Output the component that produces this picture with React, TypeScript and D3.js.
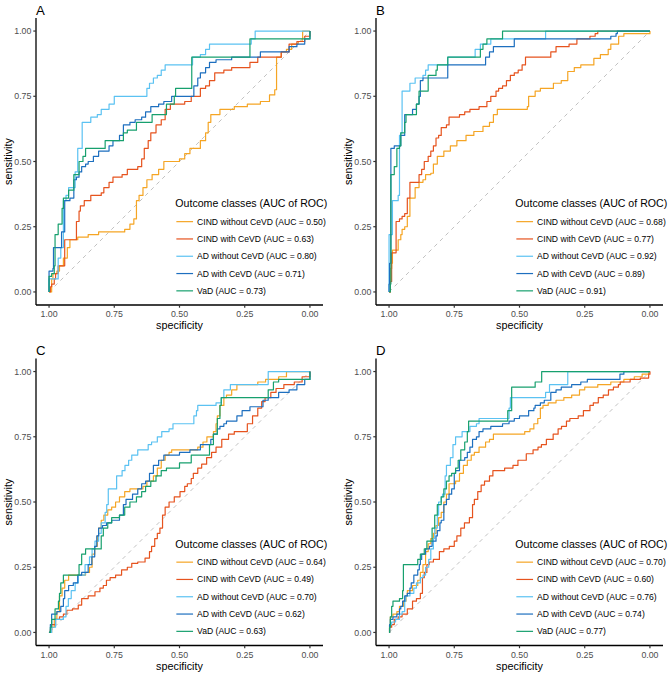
import React from "react";
import * as d3 from "d3";

type Pt = [number, number];

const seriesNames = ["CIND without CeVD", "CIND with CeVD", "AD without CeVD", "AD with CeVD", "VaD"];
const seriesColors = ["#F5A524", "#E6531E", "#5BC2F2", "#1D6FBF", "#17A06E"];
const axisTicks = [1, 0.75, 0.5, 0.25, 0];
const legendTitle = "Outcome classes (AUC of ROC)";

const aucA = ["0.50", "0.63", "0.80", "0.71", "0.73"];
const aucB = ["0.68", "0.77", "0.92", "0.89", "0.91"];
const aucC = ["0.64", "0.49", "0.70", "0.62", "0.63"];
const aucD = ["0.70", "0.60", "0.76", "0.74", "0.77"];

// Panel A  [specificity, sensitivity]
const A_cindNo: Pt[] = [[1,0],[0.99,0.05],[0.985,0.07],[0.97,0.08],[0.96,0.10],[0.945,0.13],[0.93,0.17],[0.92,0.20],[0.89,0.21],[0.85,0.22],[0.81,0.23],[0.71,0.24],[0.69,0.26],[0.675,0.28],[0.665,0.35],[0.655,0.37],[0.64,0.40],[0.625,0.43],[0.605,0.45],[0.58,0.47],[0.56,0.50],[0.50,0.51],[0.48,0.53],[0.46,0.55],[0.42,0.58],[0.40,0.61],[0.39,0.65],[0.38,0.68],[0.345,0.70],[0.29,0.71],[0.24,0.72],[0.19,0.73],[0.155,0.755],[0.135,0.775],[0.128,0.90],[0.11,0.92],[0.09,0.93],[0.07,0.95],[0.045,0.96],[0.03,0.97],[0.028,1.0],[0,1]];
const A_cindWith: Pt[] = [[1,0],[0.995,0.02],[0.99,0.03],[0.98,0.05],[0.975,0.07],[0.965,0.10],[0.94,0.20],[0.895,0.27],[0.885,0.31],[0.88,0.33],[0.865,0.35],[0.84,0.37],[0.80,0.38],[0.79,0.40],[0.77,0.42],[0.755,0.44],[0.72,0.45],[0.70,0.47],[0.66,0.48],[0.645,0.51],[0.635,0.55],[0.62,0.58],[0.61,0.61],[0.59,0.64],[0.57,0.66],[0.555,0.70],[0.535,0.72],[0.48,0.73],[0.455,0.75],[0.42,0.78],[0.40,0.79],[0.385,0.81],[0.365,0.84],[0.33,0.85],[0.30,0.86],[0.23,0.88],[0.20,0.90],[0.11,0.92],[0.08,0.95],[0.05,0.96],[0.02,0.98],[0,0.99],[0,1]];
const A_adNo: Pt[] = [[1,0],[1,0.05],[0.97,0.05],[0.965,0.13],[0.955,0.17],[0.945,0.35],[0.935,0.37],[0.925,0.40],[0.905,0.40],[0.90,0.46],[0.89,0.55],[0.875,0.55],[0.873,0.65],[0.85,0.65],[0.84,0.67],[0.815,0.68],[0.80,0.70],[0.77,0.72],[0.75,0.75],[0.63,0.75],[0.625,0.78],[0.615,0.80],[0.60,0.82],[0.585,0.83],[0.57,0.85],[0.555,0.87],[0.46,0.87],[0.45,0.90],[0.42,0.91],[0.40,0.93],[0.385,0.95],[0.235,0.95],[0.225,0.97],[0.21,1.0],[0,1]];
const A_adWith: Pt[] = [[1,0],[1,0.08],[0.985,0.09],[0.983,0.17],[0.958,0.17],[0.952,0.23],[0.945,0.23],[0.94,0.35],[0.92,0.36],[0.905,0.43],[0.895,0.44],[0.885,0.46],[0.875,0.48],[0.86,0.49],[0.85,0.50],[0.83,0.52],[0.81,0.54],[0.77,0.56],[0.755,0.58],[0.73,0.60],[0.715,0.64],[0.69,0.65],[0.67,0.66],[0.645,0.67],[0.63,0.69],[0.61,0.71],[0.58,0.72],[0.56,0.73],[0.53,0.75],[0.45,0.75],[0.445,0.79],[0.43,0.82],[0.42,0.84],[0.40,0.86],[0.385,0.88],[0.36,0.89],[0.30,0.90],[0.22,0.90],[0.19,0.92],[0.10,0.92],[0.08,0.94],[0.05,0.95],[0.02,0.97],[0,0.97],[0,1]];
const A_vad: Pt[] = [[1,0],[1,0.06],[0.99,0.07],[0.98,0.10],[0.977,0.22],[0.965,0.26],[0.955,0.26],[0.95,0.32],[0.945,0.36],[0.93,0.36],[0.925,0.39],[0.915,0.39],[0.905,0.45],[0.895,0.45],[0.885,0.50],[0.87,0.52],[0.86,0.55],[0.79,0.55],[0.785,0.58],[0.72,0.58],[0.715,0.61],[0.70,0.62],[0.665,0.65],[0.61,0.65],[0.605,0.68],[0.555,0.68],[0.55,0.72],[0.52,0.75],[0.515,0.78],[0.455,0.78],[0.453,0.90],[0.235,0.90],[0.23,0.97],[0,0.97],[0,1]];

// Panel B
const B_cindNo: Pt[] = [[1,0],[0.995,0.09],[0.99,0.11],[0.987,0.16],[0.97,0.16],[0.965,0.20],[0.955,0.22],[0.95,0.24],[0.94,0.25],[0.93,0.29],[0.92,0.36],[0.905,0.36],[0.90,0.40],[0.885,0.42],[0.87,0.43],[0.86,0.45],[0.84,0.455],[0.83,0.49],[0.815,0.52],[0.79,0.54],[0.765,0.56],[0.74,0.58],[0.705,0.60],[0.675,0.615],[0.64,0.635],[0.615,0.65],[0.60,0.68],[0.585,0.70],[0.47,0.71],[0.465,0.75],[0.44,0.77],[0.42,0.78],[0.37,0.80],[0.34,0.81],[0.315,0.845],[0.29,0.86],[0.265,0.87],[0.215,0.895],[0.19,0.91],[0.16,0.93],[0.15,0.95],[0.12,0.98],[0.10,0.99],[0,0.99],[0,1]];
const B_cindWith: Pt[] = [[1,0],[0.995,0.04],[0.99,0.15],[0.975,0.15],[0.973,0.27],[0.96,0.28],[0.95,0.29],[0.94,0.30],[0.93,0.36],[0.92,0.42],[0.89,0.42],[0.885,0.45],[0.875,0.47],[0.865,0.50],[0.85,0.52],[0.84,0.54],[0.83,0.56],[0.82,0.59],[0.81,0.60],[0.80,0.63],[0.78,0.64],[0.77,0.67],[0.73,0.68],[0.71,0.69],[0.69,0.70],[0.655,0.71],[0.625,0.73],[0.61,0.75],[0.59,0.77],[0.58,0.78],[0.565,0.79],[0.55,0.81],[0.535,0.83],[0.52,0.84],[0.505,0.85],[0.49,0.87],[0.477,0.90],[0.40,0.90],[0.38,0.92],[0.36,0.94],[0.31,0.95],[0.28,0.97],[0.23,0.98],[0.21,0.99],[0.20,1.0],[0,1]];
const B_adNo: Pt[] = [[1,0],[1,0.22],[0.987,0.35],[0.97,0.35],[0.965,0.37],[0.96,0.60],[0.955,0.61],[0.95,0.77],[0.93,0.77],[0.92,0.80],[0.90,0.82],[0.87,0.83],[0.86,0.85],[0.85,0.87],[0.78,0.87],[0.775,0.90],[0.675,0.90],[0.67,0.93],[0.65,0.95],[0.61,0.97],[0.405,0.97],[0.40,1.0],[0,1]];
const B_adWith: Pt[] = [[1,0],[1,0.03],[0.998,0.11],[0.993,0.55],[0.98,0.56],[0.96,0.56],[0.955,0.60],[0.945,0.60],[0.94,0.68],[0.915,0.68],[0.91,0.70],[0.895,0.72],[0.885,0.75],[0.88,0.81],[0.87,0.82],[0.78,0.82],[0.775,0.87],[0.64,0.87],[0.63,0.90],[0.615,0.92],[0.60,0.94],[0.53,0.94],[0.52,0.97],[0.20,0.97],[0.15,0.98],[0.13,0.99],[0.125,1.0],[0,1]];
const B_vad: Pt[] = [[1,0],[0.995,0.03],[0.993,0.45],[0.985,0.45],[0.98,0.48],[0.97,0.55],[0.96,0.56],[0.955,0.61],[0.94,0.65],[0.935,0.68],[0.90,0.68],[0.895,0.72],[0.885,0.77],[0.855,0.77],[0.85,0.83],[0.82,0.85],[0.815,0.87],[0.79,0.87],[0.775,0.90],[0.66,0.90],[0.65,0.93],[0.64,0.95],[0.625,0.97],[0.575,0.97],[0.565,1.0],[0,1]];

// Panel C
const C_cindNo: Pt[] = [[1,0],[0.99,0.02],[0.98,0.05],[0.97,0.08],[0.96,0.14],[0.95,0.17],[0.94,0.20],[0.925,0.22],[0.87,0.22],[0.86,0.23],[0.845,0.25],[0.835,0.30],[0.825,0.33],[0.815,0.37],[0.81,0.40],[0.80,0.43],[0.79,0.45],[0.775,0.47],[0.76,0.48],[0.745,0.50],[0.73,0.52],[0.71,0.54],[0.69,0.55],[0.64,0.56],[0.625,0.58],[0.60,0.60],[0.585,0.63],[0.57,0.66],[0.555,0.68],[0.54,0.69],[0.53,0.70],[0.43,0.71],[0.41,0.73],[0.395,0.75],[0.37,0.77],[0.36,0.80],[0.355,0.83],[0.345,0.87],[0.33,0.90],[0.32,0.91],[0.30,0.93],[0.28,0.95],[0.20,0.96],[0.17,0.97],[0.12,0.98],[0.09,1.0],[0,1]];
const C_cindWith: Pt[] = [[1,0],[0.995,0.01],[0.99,0.03],[0.975,0.05],[0.96,0.06],[0.945,0.07],[0.932,0.085],[0.91,0.09],[0.888,0.105],[0.875,0.13],[0.85,0.14],[0.824,0.156],[0.805,0.17],[0.792,0.18],[0.78,0.20],[0.766,0.21],[0.745,0.22],[0.722,0.24],[0.70,0.25],[0.683,0.265],[0.66,0.27],[0.632,0.285],[0.615,0.31],[0.607,0.33],[0.595,0.36],[0.585,0.38],[0.575,0.40],[0.565,0.45],[0.555,0.48],[0.54,0.50],[0.52,0.52],[0.498,0.54],[0.48,0.56],[0.47,0.57],[0.455,0.59],[0.447,0.61],[0.43,0.63],[0.415,0.645],[0.396,0.67],[0.377,0.69],[0.36,0.71],[0.338,0.74],[0.312,0.76],[0.29,0.77],[0.24,0.80],[0.22,0.83],[0.20,0.86],[0.185,0.885],[0.172,0.90],[0.15,0.92],[0.13,0.935],[0.10,0.95],[0.06,0.96],[0.03,0.98],[0,0.99],[0,1]];
const C_adNo: Pt[] = [[1,0],[0.99,0.02],[0.975,0.05],[0.945,0.06],[0.935,0.10],[0.926,0.13],[0.915,0.16],[0.90,0.19],[0.888,0.22],[0.862,0.26],[0.845,0.29],[0.835,0.32],[0.824,0.35],[0.81,0.38],[0.80,0.42],[0.785,0.46],[0.779,0.49],[0.773,0.55],[0.745,0.55],[0.741,0.60],[0.72,0.62],[0.709,0.64],[0.695,0.66],[0.683,0.68],[0.66,0.70],[0.62,0.72],[0.607,0.73],[0.585,0.75],[0.568,0.77],[0.54,0.78],[0.525,0.80],[0.465,0.80],[0.445,0.83],[0.435,0.85],[0.43,0.87],[0.37,0.87],[0.36,0.88],[0.34,0.90],[0.33,0.93],[0.305,0.95],[0.165,0.95],[0.16,1.0],[0,1]];
const C_adWith: Pt[] = [[1,0],[0.995,0.03],[0.99,0.07],[0.97,0.08],[0.955,0.10],[0.945,0.13],[0.94,0.16],[0.925,0.18],[0.907,0.19],[0.89,0.22],[0.875,0.23],[0.85,0.26],[0.836,0.29],[0.825,0.33],[0.817,0.37],[0.81,0.40],[0.795,0.41],[0.78,0.42],[0.76,0.43],[0.73,0.45],[0.715,0.49],[0.705,0.51],[0.68,0.53],[0.66,0.55],[0.645,0.57],[0.63,0.58],[0.615,0.61],[0.60,0.64],[0.58,0.66],[0.56,0.68],[0.50,0.69],[0.46,0.70],[0.42,0.72],[0.38,0.74],[0.37,0.76],[0.355,0.78],[0.345,0.79],[0.33,0.80],[0.32,0.81],[0.28,0.83],[0.26,0.85],[0.23,0.865],[0.18,0.89],[0.16,0.90],[0.12,0.92],[0.08,0.93],[0.05,0.95],[0.02,0.97],[0,0.97],[0,1]];
const C_vad: Pt[] = [[1,0],[0.995,0.02],[0.99,0.05],[0.977,0.09],[0.964,0.12],[0.96,0.15],[0.955,0.19],[0.945,0.22],[0.89,0.22],[0.885,0.26],[0.875,0.30],[0.86,0.32],[0.81,0.32],[0.80,0.37],[0.792,0.40],[0.775,0.42],[0.76,0.44],[0.73,0.45],[0.71,0.48],[0.69,0.50],[0.665,0.52],[0.645,0.54],[0.63,0.56],[0.61,0.58],[0.59,0.60],[0.57,0.62],[0.55,0.63],[0.50,0.65],[0.46,0.65],[0.455,0.68],[0.40,0.68],[0.385,0.72],[0.37,0.76],[0.355,0.82],[0.345,0.87],[0.34,0.90],[0.165,0.90],[0.16,0.93],[0.14,0.96],[0.12,0.97],[0,0.97],[0,1]];

// Panel D
const D_cindNo: Pt[] = [[1,0],[0.998,0.03],[0.995,0.06],[0.985,0.07],[0.97,0.08],[0.96,0.10],[0.945,0.12],[0.935,0.14],[0.93,0.16],[0.91,0.18],[0.89,0.20],[0.88,0.23],[0.87,0.26],[0.86,0.31],[0.85,0.34],[0.84,0.36],[0.83,0.38],[0.82,0.41],[0.81,0.44],[0.80,0.46],[0.79,0.50],[0.78,0.53],[0.77,0.57],[0.745,0.58],[0.73,0.61],[0.715,0.64],[0.70,0.66],[0.685,0.68],[0.673,0.69],[0.655,0.71],[0.63,0.73],[0.615,0.74],[0.60,0.76],[0.50,0.76],[0.48,0.77],[0.46,0.78],[0.445,0.80],[0.43,0.82],[0.42,0.86],[0.41,0.87],[0.39,0.88],[0.36,0.89],[0.33,0.90],[0.30,0.91],[0.27,0.93],[0.25,0.94],[0.20,0.95],[0.15,0.96],[0.10,0.97],[0.06,0.98],[0.03,0.99],[0.005,1.0],[0,1]];
const D_cindWith: Pt[] = [[1,0],[0.998,0.02],[0.99,0.03],[0.98,0.05],[0.965,0.06],[0.95,0.07],[0.93,0.09],[0.91,0.12],[0.895,0.13],[0.88,0.15],[0.872,0.21],[0.865,0.23],[0.855,0.26],[0.846,0.27],[0.83,0.28],[0.807,0.31],[0.79,0.32],[0.769,0.33],[0.75,0.35],[0.74,0.37],[0.725,0.40],[0.711,0.42],[0.692,0.44],[0.68,0.49],[0.673,0.51],[0.66,0.54],[0.647,0.565],[0.634,0.58],[0.615,0.60],[0.602,0.62],[0.557,0.63],[0.525,0.64],[0.506,0.66],[0.474,0.685],[0.448,0.70],[0.429,0.71],[0.416,0.72],[0.397,0.74],[0.371,0.76],[0.352,0.78],[0.339,0.79],[0.32,0.81],[0.307,0.82],[0.275,0.83],[0.255,0.85],[0.23,0.87],[0.217,0.88],[0.198,0.90],[0.179,0.91],[0.159,0.93],[0.14,0.94],[0.121,0.95],[0.114,0.96],[0.076,0.97],[0.037,0.975],[0.005,0.99],[0,1]];
const D_adNo: Pt[] = [[1,0],[0.998,0.03],[0.99,0.04],[0.975,0.05],[0.96,0.07],[0.95,0.08],[0.94,0.12],[0.936,0.14],[0.92,0.15],[0.905,0.17],[0.895,0.19],[0.88,0.21],[0.87,0.22],[0.86,0.25],[0.848,0.28],[0.84,0.32],[0.83,0.36],[0.825,0.40],[0.815,0.45],[0.81,0.50],[0.80,0.52],[0.795,0.53],[0.785,0.60],[0.78,0.64],[0.765,0.67],[0.755,0.72],[0.745,0.75],[0.73,0.75],[0.72,0.77],[0.69,0.79],[0.665,0.80],[0.655,0.82],[0.545,0.82],[0.54,0.86],[0.535,0.90],[0.405,0.90],[0.40,0.92],[0.385,0.95],[0.325,0.95],[0.315,1.0],[0,1]];
const D_adWith: Pt[] = [[1,0],[0.998,0.03],[0.995,0.05],[0.985,0.06],[0.97,0.07],[0.96,0.09],[0.955,0.10],[0.948,0.12],[0.94,0.14],[0.93,0.15],[0.92,0.17],[0.915,0.19],[0.905,0.22],[0.89,0.24],[0.884,0.26],[0.88,0.28],[0.875,0.30],[0.86,0.32],[0.845,0.33],[0.835,0.35],[0.82,0.37],[0.815,0.39],[0.805,0.42],[0.80,0.43],[0.79,0.49],[0.78,0.51],[0.77,0.53],[0.76,0.55],[0.75,0.61],[0.745,0.62],[0.73,0.66],[0.71,0.67],[0.70,0.69],[0.69,0.71],[0.68,0.74],[0.665,0.75],[0.655,0.77],[0.64,0.78],[0.61,0.79],[0.565,0.80],[0.54,0.81],[0.52,0.82],[0.50,0.83],[0.47,0.83],[0.465,0.85],[0.445,0.86],[0.44,0.87],[0.42,0.88],[0.405,0.89],[0.38,0.92],[0.36,0.93],[0.34,0.94],[0.30,0.95],[0.265,0.96],[0.24,0.97],[0.13,0.97],[0.115,0.99],[0.10,1.0],[0,1]];
const D_vad: Pt[] = [[1,0],[0.998,0.02],[0.995,0.06],[0.99,0.10],[0.985,0.12],[0.96,0.13],[0.952,0.13],[0.948,0.16],[0.945,0.26],[0.895,0.26],[0.89,0.28],[0.88,0.30],[0.865,0.32],[0.855,0.35],[0.84,0.35],[0.835,0.40],[0.825,0.45],[0.815,0.49],[0.80,0.52],[0.79,0.55],[0.78,0.58],[0.77,0.60],[0.76,0.61],[0.745,0.63],[0.735,0.66],[0.725,0.70],[0.71,0.73],[0.70,0.77],[0.695,0.81],[0.55,0.81],[0.545,0.85],[0.53,0.94],[0.445,0.94],[0.44,0.96],[0.415,1.0],[0,1]];

const panels = [
  { label: "A", left: 36, top: 18, auc: aucA, curves: [A_cindNo, A_cindWith, A_adNo, A_adWith, A_vad] },
  { label: "B", left: 376, top: 18, auc: aucB, curves: [B_cindNo, B_cindWith, B_adNo, B_adWith, B_vad] },
  { label: "C", left: 36, top: 358.5, auc: aucC, curves: [C_cindNo, C_cindWith, C_adNo, C_adWith, C_vad] },
  { label: "D", left: 376, top: 358.5, auc: aucD, curves: [D_cindNo, D_cindWith, D_adNo, D_adWith, D_vad] },
];

const FONT = "'Liberation Sans', Arial, Helvetica, sans-serif";
const SIZE = 287;
const PAD = 13.05;

function Panel({ p }: { p: (typeof panels)[number] }) {
  const x = d3.scaleLinear().domain([1, 0]).range([p.left + PAD, p.left + SIZE - PAD]);
  const y = d3.scaleLinear().domain([0, 1]).range([p.top + SIZE - PAD, p.top + PAD]);
  const line = d3
    .line<Pt>()
    .x((d) => x(d[0]))
    .y((d) => y(d[1]))
    .curve(d3.curveStepAfter);
  const diag = d3.line<Pt>().x((d) => x(d[0])).y((d) => y(d[1]));
  const bottom = p.top + SIZE;
  const fmt = d3.format(".2f");
  const lgX = x(1);
  const lgY = y(0);
  return (
    <g>
      <text x={p.left} y={p.top - 3.5} fontSize={13.2} fontFamily={FONT} fill="#000">
        {p.label}
      </text>
      <path d={diag([[1, 0], [0, 1]]) || ""} stroke="#C2C2C2" strokeWidth={1} strokeDasharray="4,4" fill="none" />
      {p.curves.map((c, i) => (
        <path key={i} d={line(c) || ""} stroke={seriesColors[i]} strokeWidth={1.2} fill="none" strokeLinejoin="round" />
      ))}
      <line x1={p.left} x2={p.left + SIZE} y1={bottom} y2={bottom} stroke="#000" strokeWidth={1.3} />
      <line x1={p.left} x2={p.left} y1={p.top} y2={bottom} stroke="#000" strokeWidth={1.3} />
      {axisTicks.map((t) => (
        <g key={"x" + t}>
          <line x1={x(t)} x2={x(t)} y1={bottom} y2={bottom + 2.7} stroke="#333" strokeWidth={1.2} />
          <text x={x(t)} y={bottom + 12.3} textAnchor="middle" fontSize={8.8} fontFamily={FONT} fill="#4D4D4D">
            {fmt(t)}
          </text>
        </g>
      ))}
      {axisTicks.map((t) => (
        <g key={"y" + t}>
          <line x1={p.left - 2.7} x2={p.left} y1={y(t)} y2={y(t)} stroke="#333" strokeWidth={1.2} />
          <text x={p.left - 4.6} y={y(t)} dy="0.35em" textAnchor="end" fontSize={8.8} fontFamily={FONT} fill="#4D4D4D">
            {fmt(t)}
          </text>
        </g>
      ))}
      <text x={p.left + SIZE / 2} y={bottom + 24} textAnchor="middle" fontSize={10.8} fontFamily={FONT} fill="#000">
        specificity
      </text>
      <text
        transform={`translate(${p.left - 24.5},${p.top + SIZE / 2}) rotate(-90)`}
        textAnchor="middle"
        fontSize={10.8}
        fontFamily={FONT}
        fill="#000"
      >
        sensitivity
      </text>
      <text x={lgX + 126.3} y={lgY - 88.5} dy="0.35em" fontSize={10.6} fontFamily={FONT} fill="#000">
        {legendTitle}
      </text>
      {seriesNames.map((n, i) => {
        const cy = lgY - 70.3 + i * 17.3;
        return (
          <g key={n}>
            <line x1={lgX + 127.3} x2={lgX + 144} y1={cy} y2={cy} stroke={seriesColors[i]} strokeWidth={1.2} />
            <text x={lgX + 148} y={cy} dy="0.35em" fontSize={8.6} fontFamily={FONT} fill="#000">
              {`${n} (AUC = ${p.auc[i]})`}
            </text>
          </g>
        );
      })}
    </g>
  );
}

export default function App() {
  return (
    <svg
      width={669}
      height={673}
      viewBox="0 0 669 673"
      style={{ position: "absolute", left: 0, top: 0, background: "#fff" }}
    >
      <rect width={669} height={673} fill="#fff" />
      {panels.map((p) => (
        <Panel key={p.label} p={p} />
      ))}
    </svg>
  );
}
